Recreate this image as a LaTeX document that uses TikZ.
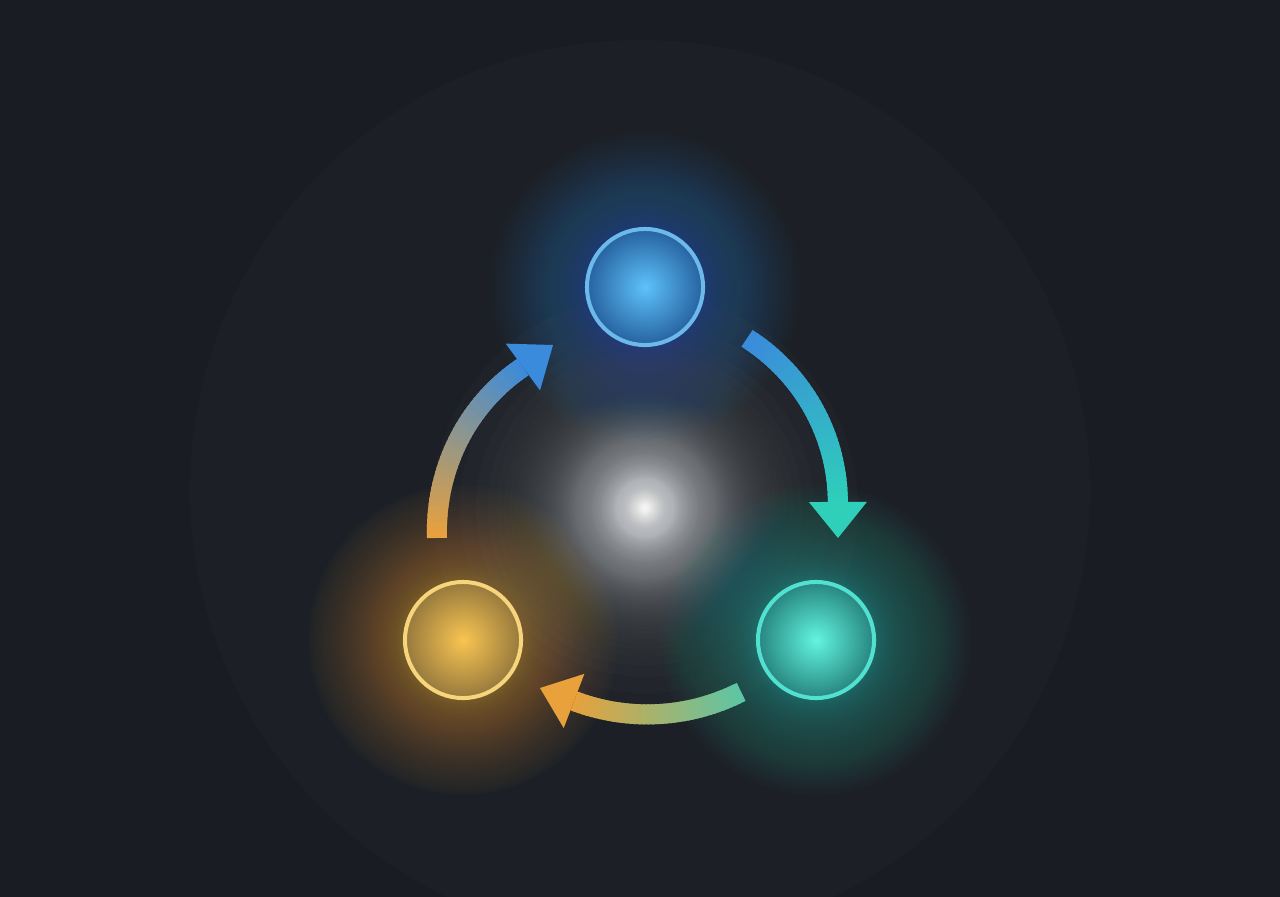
\documentclass[tikz,border=0pt]{standalone}
\usetikzlibrary{calc}
\definecolor{bgdark}{HTML}{191C22}
\definecolor{discfill}{HTML}{1C2026}
\definecolor{bluering}{HTML}{6CB9EA}
\definecolor{bluecore}{HTML}{5EC2FA}
\definecolor{bluemid}{HTML}{2662A0}
\definecolor{blueedge}{HTML}{1C466F}
\definecolor{blueglow}{HTML}{2A6CB0}
\definecolor{tealring}{HTML}{52E0D1}
\definecolor{tealcore}{HTML}{62F5E0}
\definecolor{tealmid}{HTML}{27857F}
\definecolor{tealedge}{HTML}{1B4246}
\definecolor{tealglow}{HTML}{1F9E94}
\definecolor{orangering}{HTML}{F6D57D}
\definecolor{orangecore}{HTML}{F9C552}
\definecolor{orangemid}{HTML}{96793D}
\definecolor{orangeedge}{HTML}{54482F}
\definecolor{orangeglow}{HTML}{C08A30}
\definecolor{coreglow}{HTML}{E6EAEE}
\definecolor{arrowblue}{HTML}{3A8BDB}
\definecolor{arrowteal}{HTML}{2FCFBA}
\definecolor{arrowgreen}{HTML}{5DC6A5}
\definecolor{arroworange}{HTML}{E9A13C}
%%%%%%%%%%%%%%%%%%%%%%%%%%%%%%% shadings
\pgfdeclareradialshading{blueorb}{\pgfpointorigin}{color(0bp)=(bluecore); color(25bp)=(bluemid); color(50bp)=(blueedge)}
\pgfdeclareradialshading{tealorb}{\pgfpointorigin}{color(0bp)=(tealcore); color(25bp)=(tealmid); color(50bp)=(tealedge)}
\pgfdeclareradialshading{orangeorb}{\pgfpointorigin}{color(0bp)=(orangecore); color(25bp)=(orangemid); color(50bp)=(orangeedge)}
% stacked discs for a soft glow: #1 colour, #2 centre
\newcommand{\orbglow}[2]{%
  \foreach \k in {1,...,60}
    \fill[#1, fill opacity=0.019] (#2) circle ({60+95*(\k/60)^1.8});
}
% #1,#2 angles, #3,#4 radii, #5,#6 colours, #7 tip
\newcommand{\gradarrow}[7]{%
  \foreach \i in {0,...,39} {
    \pgfmathsetmacro{\ta}{\i/40}
    \pgfmathsetmacro{\tb}{min((\i+1.6)/40,1)}
    \pgfmathtruncatemacro{\pct}{100*(\i+0.5)/40}
    \draw[line width=0.2cm, color=#6!\pct!#5]
      ($(ctr)+({(#1)+\ta*((#2)-(#1))}:{(#3)+\ta*((#4)-(#3))})$) --
      ($(ctr)+({(#1)+\tb*((#2)-(#1))}:{(#3)+\tb*((#4)-(#3))})$);
  }
  \coordinate (headbase) at ($(ctr)+(#2:#4)$);
  \fill[#6] (#7) -- ($(headbase)!0.29cm!90:(#7)$) -- ($(headbase)!0.29cm!-90:(#7)$) -- cycle;
}
\begin{document}
\begin{tikzpicture}[x=0.01cm, y=0.01cm,
  orb/.style={circle, shade, minimum size=1.16cm, inner sep=0pt, line width=0.04cm}]
%\draw[help lines, step=100] (0,0) grid (1280,896);
\useasboundingbox (0,0) rectangle (1280,896);
\begin{scope}
\clip (0,0) rectangle (1280,896);
\fill[bgdark] (-10,-10) rectangle (1290,906);
\fill[discfill] (640,406) circle (450);
\end{scope}
\coordinate (ctr) at (645,388);
\coordinate (bluepos) at (645,609);
\coordinate (tealpos) at (816,256);
\coordinate (orangepos) at (463,256);
%%%%%%%%%%%%%%%%%%%%%%%%%%%%%%% glows
\foreach \k in {1,...,200}
  \fill[coreglow, fill opacity=0.0145] (ctr) circle ({40*ln(200/\k)+1});
\foreach \k [evaluate=\k as \op using 0.015+0.11*\k/40] in {1,...,40}
  \fill[white, fill opacity=\op] (ctr) circle ({14*ln(40/\k)+1.5});
\orbglow{blueglow}{bluepos}
\orbglow{tealglow}{tealpos}
\orbglow{orangeglow}{orangepos}
%%%%%%%%%%%%%%%%%%%%%%%%%%%%%%% arrows
\coordinate (tipone) at (838,358);
\coordinate (tiptwo) at (540,208);
\coordinate (tipthree) at (553,551);
\gradarrow{59.0}{1.8}{198}{193}{arrowblue}{arrowteal}{tipone}
\gradarrow{-62.4}{-110.2}{207.5}{205.6}{arrowgreen}{arroworange}{tiptwo}
\gradarrow{188.2}{130.9}{210.2}{186.5}{arroworange}{arrowblue}{tipthree}
%%%%%%%%%%%%%%%%%%%%%%%%%%%%%%% orbs
\node[orb, shading=blueorb, draw=bluering] (blueorb) at (bluepos) {};
\node[orb, shading=tealorb, draw=tealring] (tealorb) at (tealpos) {};
\node[orb, shading=orangeorb, draw=orangering] (orangeorb) at (orangepos) {};
\end{tikzpicture}
\end{document}
